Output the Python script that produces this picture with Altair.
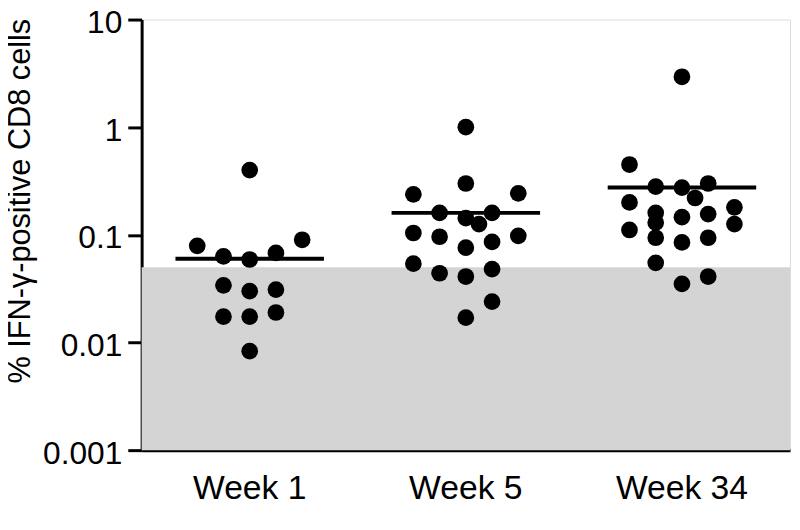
import altair as alt
import pandas as pd

groups = ["Week 1", "Week 5", "Week 34"]

week1_values = [0.40, 0.079, 0.090, 0.063, 0.059, 0.068, 0.034, 0.030, 0.031, 0.0174, 0.0174, 0.019, 0.0083]
week1_cols = [0, -4, 4, -2, 0, 2, -2, 0, 2, -2, 0, 2, 0]

week5_values = [1.0, 0.30, 0.238, 0.243, 0.16, 0.143, 0.126, 0.16, 0.104, 0.096, 0.098, 0.076, 0.086,
                0.054, 0.044, 0.041, 0.048, 0.024, 0.017]
week5_cols = [0, 0, -4, 4, -2, 0, 1, 2, -4, -2, 4, 0, 2, -4, -2, 0, 2, 2, 0]

week34_values = [2.94, 0.45, 0.28, 0.275, 0.30, 0.22, 0.20, 0.16, 0.13, 0.146, 0.156, 0.18, 0.126,
                 0.111, 0.094, 0.085, 0.094, 0.055, 0.041, 0.035]
week34_cols = [0, -4, -2, 0, 2, 1, -4, -2, -2, 0, 2, 4, 4, -4, -2, 0, 2, -2, 2, 0]

center_lines = [0.06, 0.16, 0.275]
shade_low = 0.001
shade_high = 0.05
y_ticks = [0.001, 0.01, 0.1, 1, 10]

rows = []
for g, vals, cols in zip(groups, [week1_values, week5_values, week34_values],
                         [week1_cols, week5_cols, week34_cols]):
    for v, c in zip(vals, cols):
        rows.append({"group": g, "value": v, "col": c})
points = pd.DataFrame(rows)
lines = pd.DataFrame({"group": groups, "value": center_lines})
shade = pd.DataFrame({"lo": [shade_low], "hi": [shade_high]})

W = 655
H = 435
step = W / 3
FONT = "Liberation Sans"

yscale = alt.Scale(type="log", domain=[0.001, 10], nice=False)
xscale = alt.Scale(domain=groups, paddingInner=0, paddingOuter=0)

band = alt.Chart(shade).mark_rect(color="#d4d4d4").encode(
    x=alt.value(0), x2=alt.value("width"),
    y=alt.Y("lo:Q", scale=yscale), y2="hi:Q",
)

dots = alt.Chart(points).mark_circle(size=285, color="black", opacity=1).encode(
    x=alt.X("group:N", scale=xscale, sort=groups,
            axis=alt.Axis(title=None, labelAngle=0, ticks=False, tickSize=0, labelFontSize=34,
                          labelColor="black", labelFont=FONT, labelPadding=49,
                          labelBaseline="alphabetic", labelAlign="center", bandPosition=0.5,
                          domainColor="black", domainWidth=3)),
    xOffset=alt.XOffset("col:Q", scale=alt.Scale(domain=[-4, 4],
                                                 range=[step / 2 - 53, step / 2 + 53])),
    y=alt.Y("value:Q", scale=yscale,
            axis=alt.Axis(values=y_ticks, format="~g", grid=False,
                          title="% IFN-γ-positive CD8 cells",
                          titleFontSize=31, titleFont=FONT, titleFontWeight="normal",
                          titleColor="black", titleAngle=-90, titleAlign="center",
                          titleBaseline="alphabetic", titleX=-113, titleY=183,
                          labelFontSize=32, labelFont=FONT, labelColor="black",
                          labelPadding=6, labelOffset=3, tickSize=14, tickWidth=3,
                          tickColor="black", domainColor="black", domainWidth=3)),
)

meds = alt.Chart(lines).mark_tick(color="black", thickness=4, size=150, opacity=1).encode(
    x=alt.X("group:N", scale=xscale, sort=groups),
    y=alt.Y("value:Q", scale=yscale),
)

chart = alt.layer(band, meds, dots).properties(
    width=W, height=H,
    autosize=alt.AutoSizeParams(type="none"),
    padding={"left": 135, "top": 9, "right": 2, "bottom": 78},
).configure_view(stroke=None).configure(background="white")

chart.save("out.html", embed_options={"renderer": "svg", "actions": False})
